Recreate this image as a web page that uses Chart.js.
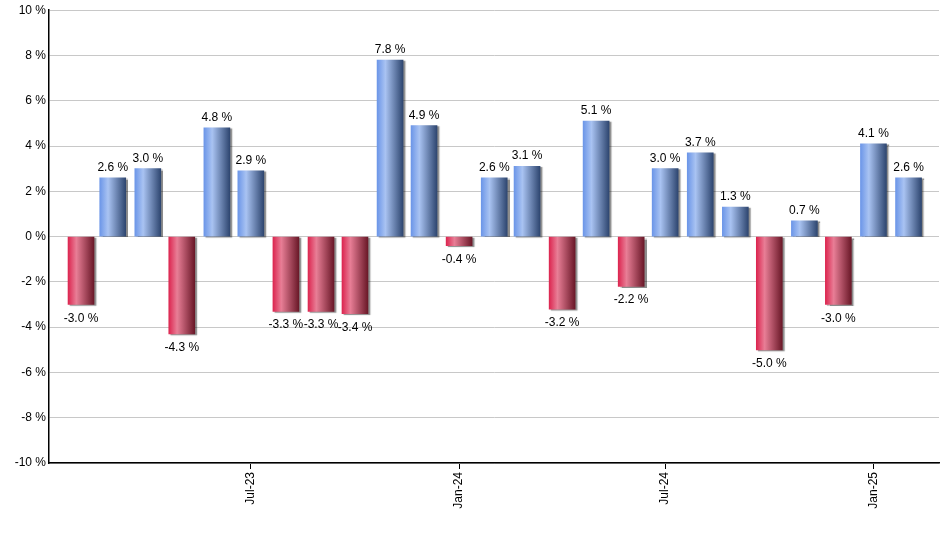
<!DOCTYPE html>
<html>
<head>
<meta charset="utf-8">
<script src="https://cdn.jsdelivr.net/npm/chart.js@4/dist/chart.umd.min.js"></script>
<style>
    html, body { margin: 0; padding: 0; background: #fff; }
    #wrap { width: 940px; height: 550px; position: relative; }
</style>
</head>
<body>
<div id="wrap"><canvas id="chart"></canvas></div>
<script>
// Datos del gráfico
const meses = ['Feb-23', 'Mar-23', 'Apr-23', 'May-23', 'Jun-23', 'Jul-23', 'Aug-23', 'Sep-23', 'Oct-23',
    'Nov-23', 'Dec-23', 'Jan-24', 'Feb-24', 'Mar-24', 'Apr-24', 'May-24', 'Jun-24', 'Jul-24', 'Aug-24',
    'Sep-24', 'Oct-24', 'Nov-24', 'Dec-24', 'Jan-25', 'Feb-25'];
const cambios = [-3.0, 2.6, 3.0, -4.3, 4.8, 2.9, -3.3, -3.3, -3.4, 7.8, 4.9, -0.4, 2.6, 3.1, -3.2, 5.1,
    -2.2, 3.0, 3.7, 1.3, -5.0, 0.7, -3.0, 4.1, 2.6];
const etiquetasX = ['Jul-23', 'Jan-24', 'Jul-24', 'Jan-25'];
const ticksY = [-10, -8, -6, -4, -2, 0, 2, 4, 6, 8, 10];

// Convertir 'Mmm-AA' a días desde el primer mes (eje temporal)
const nombresMes = ['Jan', 'Feb', 'Mar', 'Apr', 'May', 'Jun', 'Jul', 'Aug', 'Sep', 'Oct', 'Nov', 'Dec'];
function aDias(etiqueta) {
    const [m, a] = etiqueta.split('-');
    return Date.UTC(2000 + parseInt(a), nombresMes.indexOf(m), 1) / 86400000;
}
const origen = aDias(meses[0]);
const dias = meses.map(m => aDias(m) - origen);
const diasTicks = etiquetasX.map(m => aDias(m) - origen);

const ANCHO_BARRA = 26;

function degradado(context) {
    const chart = context.chart;
    const escala = chart.scales.x;
    const v = cambios[context.dataIndex];
    const plano = v < 0 ? '#c03050' : '#7a9ee0';
    if (!escala || context.type !== 'data') return plano;
    const cx = escala.getPixelForValue(dias[context.dataIndex]);
    if (!isFinite(cx)) return plano;
    const g = chart.ctx.createLinearGradient(cx - ANCHO_BARRA / 2, 0, cx + ANCHO_BARRA / 2, 0);
    if (v < 0) {
        g.addColorStop(0, '#dc2650');
        g.addColorStop(0.32, '#e87e96');
        g.addColorStop(1, '#6a1828');
    } else {
        g.addColorStop(0, '#6c96e8');
        g.addColorStop(0.32, '#a9c3f2');
        g.addColorStop(1, '#2e4670');
    }
    return g;
}

// Sombra gris de las barras
const sombraPlugin = {
    id: 'sombra',
    beforeDatasetsDraw(chart) {
        const ctx = chart.ctx;
        ctx.save();
        ctx.shadowColor = 'rgba(0, 0, 0, 0.45)';
        ctx.shadowOffsetX = 2;
        ctx.shadowOffsetY = 1;
        ctx.shadowBlur = 1;
    },
    afterDatasetsDraw(chart) {
        chart.ctx.restore();
    }
};

// Etiquetas de valor sobre/debajo de cada barra
const etiquetasPlugin = {
    id: 'etiquetas',
    afterDatasetsDraw(chart) {
        const ctx = chart.ctx;
        const meta = chart.getDatasetMeta(0);
        ctx.save();
        ctx.shadowColor = 'transparent';
        ctx.font = '12px Arial, "Liberation Sans", sans-serif';
        ctx.fillStyle = '#000';
        ctx.textAlign = 'center';
        ctx.textBaseline = 'alphabetic';
        meta.data.forEach((bar, i) => {
            const v = cambios[i];
            const texto = v.toFixed(1) + ' %';
            if (v >= 0) {
                ctx.fillText(texto, bar.x, bar.y - 7);
            } else {
                ctx.fillText(texto, bar.x, bar.y + 17);
            }
        });
        ctx.restore();
    }
};

new Chart(document.getElementById('chart'), {
    type: 'bar',
    data: {
        datasets: [{
            data: cambios.map((v, i) => ({ x: dias[i], y: v })),
            backgroundColor: degradado,
            borderWidth: 0,
            barThickness: ANCHO_BARRA
        }]
    },
    options: {
        responsive: true,
        maintainAspectRatio: false,
        animation: false,
        layout: { padding: { top: 9, right: 1, left: 0, bottom: 0 } },
        plugins: {
            legend: { display: false },
            tooltip: { enabled: false }
        },
        scales: {
            x: {
                type: 'linear',
                offset: false,
                min: -28.3,
                max: 757.9,
                afterBuildTicks: s => { s.ticks = diasTicks.map(d => ({ value: d })); },
                afterFit: s => { s.height = 87; },
                grid: {
                    offset: false,
                    drawOnChartArea: false,
                    drawTicks: true,
                    tickLength: 6,
                    tickColor: '#000'
                },
                border: { color: '#000', width: 1.5 },
                ticks: {
                    autoSkip: false,
                    minRotation: 90,
                    maxRotation: 90,
                    padding: 3,
                    color: '#000',
                    font: { family: 'Arial, "Liberation Sans", sans-serif', size: 12 },
                    callback: v => {
                        const k = diasTicks.indexOf(v);
                        return k >= 0 ? etiquetasX[k] : '';
                    }
                }
            },
            y: {
                min: -10,
                max: 10,
                afterBuildTicks: s => { s.ticks = ticksY.map(v => ({ value: v })); },
                afterFit: s => { s.width = 49; },
                grid: {
                    color: '#c8c8c8',
                    drawTicks: false
                },
                border: { color: '#000', width: 1.5 },
                ticks: {
                    padding: 3,
                    color: '#000',
                    font: { family: 'Arial, "Liberation Sans", sans-serif', size: 12 },
                    callback: v => v + ' %'
                }
            }
        }
    },
    plugins: [sombraPlugin, etiquetasPlugin]
});
</script>
</body>
</html>
